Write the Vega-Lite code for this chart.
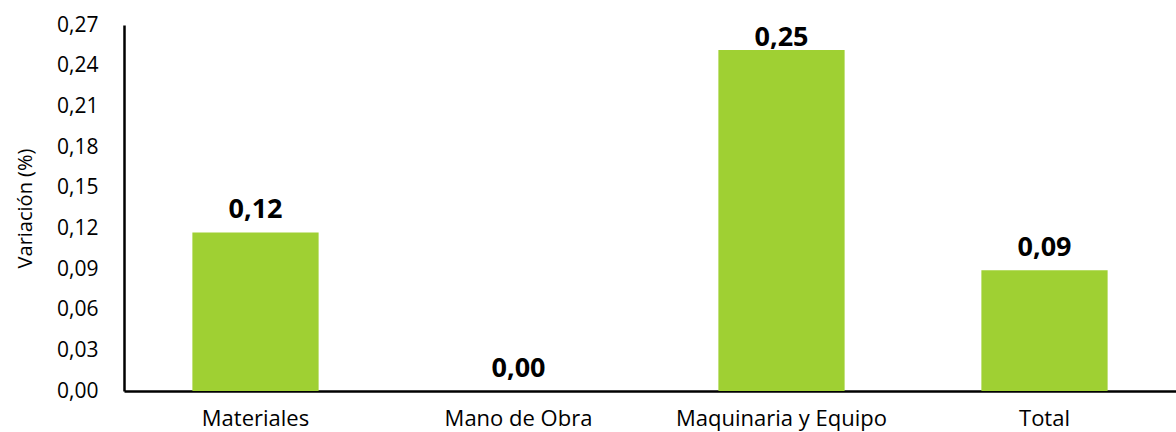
{
  "$schema": "https://vega.github.io/schema/vega-lite/v6.json",
  "width": 1052,
  "height": 366,
  "autosize": {"type": "none"},
  "padding": {"left": 124, "top": 25, "right": 0, "bottom": 41},
  "background": "white",
  "config": {"view": {"stroke": null}, "font": "Open Sans"},
  "data": {"values": [
    {"cat": "Materiales", "val": 0.117, "label": "0,12"},
    {"cat": "Mano de Obra", "val": 0.0, "label": "0,00"},
    {"cat": "Maquinaria y Equipo", "val": 0.2515, "label": "0,25"},
    {"cat": "Total", "val": 0.089, "label": "0,09"}
  ]},
  "encoding": {
    "x": {"field": "cat", "type": "nominal", "sort": null,
      "scale": {"paddingInner": 0, "paddingOuter": 0},
      "axis": {"title": null, "labelAngle": 0, "labelFontSize": 22, "labelLimit": 0, "labelColor": "#000", "labelPadding": 17, "ticks": false, "domainColor": "#000", "domainWidth": 2.5, "labelFont": "Open Sans"}},
    "y": {"field": "val", "type": "quantitative",
      "scale": {"domain": [0, 0.27], "nice": false},
      "axis": {"title": "Variación (%)", "values": [0,0.03,0.06,0.09,0.12,0.15,0.18,0.21,0.24,0.27],
        "labelExpr": "replace(format(datum.value, '.2f'), '.', ',')",
        "grid": false, "ticks": false, "labelPadding": 26, "labelFontSize": 21, "labelColor": "#000",
        "domainColor": "#000", "domainWidth": 2.5, "titleFontSize": 20, "titleFontWeight": "normal", "titleColor": "#000", "titleX": -99, "titleY": 183, "titleAlign": "center", "titleBaseline": "middle"}}
  },
  "layer": [
    {"mark": {"type": "bar", "color": "#9FD033", "width": {"band": 0.48}}},
    {"mark": {"type": "text", "fontSize": 27, "fontWeight": "bold", "baseline": "alphabetic", "dy": {"expr": "datum.val > 0.2 ? -4 : -14"}, "color": "#000"},
      "encoding": {"text": {"field": "label"}}}
  ]
}
